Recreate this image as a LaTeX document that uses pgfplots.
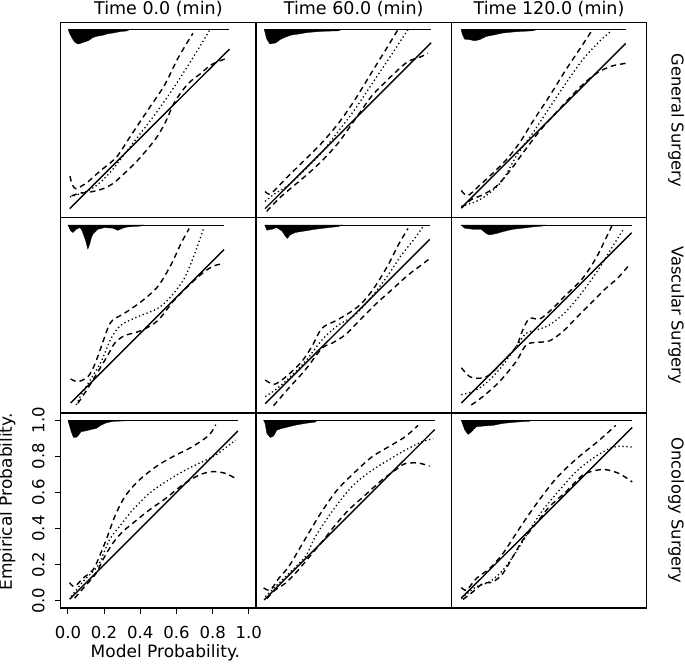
\documentclass[border=0pt]{standalone}
\usepackage{fontspec}
\setmainfont{DejaVu Sans}
\usepackage{pgfplots}
\pgfplotsset{compat=1.18}
\usepgfplotslibrary{groupplots}
\usetikzlibrary{calc}
\pgfplotsset{
  cal/.style={black, line width=1.4pt, mark=none, smooth, tension=0.5},
  dsh/.style={cal, dash pattern=on 5.5pt off 4pt},
  dot/.style={cal, line width=1.3pt, dash pattern=on 1.3pt off 2.7pt},
  idl/.style={black, line width=1.4pt, mark=none},
  hist/.style={fill=black, draw=black, line width=0.3pt, mark=none},
  hline/.style={black, line width=0.7pt, mark=none},
}
\begin{document}
\begin{tikzpicture}[font=\fontsize{17}{20}\selectfont]
\begin{groupplot}[group style={group size=3 by 3, horizontal sep=0pt, vertical sep=0pt, group name=g},
  scale only axis, width=195.3pt, height=195.17pt,
  xmin=-0.04, xmax=1.04, ymin=-0.04, ymax=1.04,
  xtick=\empty, ytick=\empty,
  axis line style={line width=1.4pt}]
% ---------- row 1: General Surgery
\nextgroupplot
\addplot[hist] coordinates {(0.002,1) (0.011,0.976) (0.025,0.95) (0.039,0.93) (0.057,0.921) (0.07,0.925) (0.085,0.93) (0.1,0.935) (0.112,0.939) (0.14,0.958) (0.165,0.965) (0.195,0.97) (0.22,0.978) (0.25,0.982) (0.29,0.99) (0.324,0.993) (0.34,1)};
\addplot[hline] coordinates {(0.002,1) (0.893,1)};
\addplot[idl] coordinates {(0.01,0.01) (0.893,0.893)};
\addplot[dsh] coordinates {(0.011,0.19) (0.025,0.14) (0.045,0.12) (0.075,0.135) (0.112,0.16) (0.18,0.22) (0.259,0.285) (0.30,0.34) (0.351,0.419) (0.443,0.557) (0.535,0.695) (0.608,0.842) (0.691,0.98)};
\addplot[dot] coordinates {(0.011,0.075) (0.06,0.09) (0.112,0.11) (0.16,0.14) (0.204,0.18) (0.25,0.23) (0.296,0.29) (0.35,0.36) (0.40,0.425) (0.48,0.53) (0.572,0.66) (0.663,0.80) (0.737,0.92) (0.785,1.0)};
\addplot[dsh] coordinates {(0.02,0.08) (0.06,0.095) (0.11,0.1) (0.16,0.11) (0.204,0.124) (0.25,0.15) (0.296,0.19) (0.388,0.28) (0.48,0.39) (0.535,0.48) (0.59,0.6) (0.663,0.70) (0.737,0.76) (0.79,0.805) (0.865,0.837) (0.884,0.833)};
\nextgroupplot
\addplot[hist] coordinates {(0.006,1) (0.019,0.948) (0.037,0.921) (0.05,0.924) (0.065,0.926) (0.08,0.935) (0.092,0.945) (0.12,0.958) (0.157,0.971) (0.193,0.976) (0.248,0.985) (0.322,0.991) (0.414,0.994) (0.43,1)};
\addplot[hline] coordinates {(0.006,1) (0.928,1)};
\addplot[idl] coordinates {(0.01,0.01) (0.928,0.928)};
\addplot[dsh] coordinates {(0.01,0.105) (0.03,0.09) (0.05,0.1) (0.083,0.133) (0.138,0.19) (0.23,0.28) (0.32,0.37) (0.414,0.48) (0.505,0.61) (0.597,0.76) (0.69,0.91) (0.744,1.0)};
\addplot[dot] coordinates {(0.01,0.05) (0.06,0.09) (0.138,0.14) (0.23,0.225) (0.32,0.317) (0.414,0.437) (0.505,0.557) (0.597,0.695) (0.69,0.833) (0.762,0.943) (0.80,1.0)};
\addplot[dsh] coordinates {(0.019,-0.005) (0.1,0.078) (0.23,0.188) (0.32,0.27) (0.414,0.373) (0.505,0.50) (0.597,0.63) (0.65,0.686) (0.726,0.76) (0.80,0.824) (0.873,0.851) (0.91,0.87)};
\nextgroupplot
\addplot[hist] coordinates {(0.015,1) (0.02,0.976) (0.033,0.948) (0.061,0.945) (0.088,0.939) (0.116,0.945) (0.153,0.963) (0.19,0.97) (0.245,0.982) (0.318,0.989) (0.41,0.994) (0.43,1)};
\addplot[hline] coordinates {(0.015,1) (0.924,1)};
\addplot[idl] coordinates {(0.015,0.015) (0.924,0.924)};
\addplot[dsh] coordinates {(0.015,0.111) (0.05,0.082) (0.116,0.139) (0.19,0.207) (0.263,0.28) (0.336,0.373) (0.41,0.492) (0.501,0.63) (0.593,0.778) (0.685,0.916) (0.74,1.0)};
\addplot[dot] coordinates {(0.015,0.023) (0.098,0.05) (0.171,0.096) (0.245,0.17) (0.318,0.299) (0.41,0.428) (0.501,0.566) (0.593,0.704) (0.685,0.833) (0.777,0.934) (0.84,0.99)};
\addplot[dsh] coordinates {(0.015,0.013) (0.07,0.06) (0.134,0.087) (0.208,0.133) (0.281,0.216) (0.355,0.317) (0.446,0.437) (0.538,0.54) (0.63,0.64) (0.704,0.713) (0.777,0.768) (0.85,0.80) (0.924,0.814)};
% ---------- row 2: Vascular Surgery
\nextgroupplot
\addplot[hist] coordinates {(0.0,1) (0.015,0.967) (0.028,0.958) (0.046,0.976) (0.065,0.985) (0.075,0.975) (0.092,0.93) (0.101,0.902) (0.11,0.866) (0.12,0.893) (0.13,0.93) (0.138,0.948) (0.166,0.976) (0.202,0.985) (0.248,0.982) (0.276,0.97) (0.303,0.982) (0.331,0.989) (0.404,0.994) (0.42,1)};
\addplot[hline] coordinates {(0.0,1) (0.863,1)};
\addplot[idl] coordinates {(0.015,0.015) (0.863,0.863)};
\addplot[dsh] coordinates {(0.015,0.148) (0.055,0.133) (0.11,0.16) (0.147,0.225) (0.184,0.326) (0.221,0.43) (0.248,0.474) (0.312,0.511) (0.404,0.575) (0.496,0.658) (0.569,0.778) (0.625,0.897) (0.67,0.98)};
\addplot[dot] coordinates {(0.046,0.004) (0.073,0.06) (0.129,0.151) (0.184,0.244) (0.239,0.373) (0.294,0.446) (0.386,0.492) (0.496,0.538) (0.569,0.603) (0.643,0.704) (0.698,0.833) (0.75,0.98)};
\addplot[dsh] coordinates {(0.055,0.013) (0.11,0.096) (0.166,0.188) (0.221,0.28) (0.258,0.345) (0.312,0.387) (0.404,0.415) (0.496,0.47) (0.588,0.584) (0.68,0.676) (0.753,0.74) (0.808,0.774) (0.863,0.787)};
\nextgroupplot
\addplot[hist] coordinates {(0.008,1) (0.02,0.971) (0.035,0.974) (0.048,0.976) (0.075,0.985) (0.09,0.975) (0.103,0.967) (0.121,0.939) (0.134,0.926) (0.149,0.945) (0.177,0.958) (0.232,0.967) (0.287,0.976) (0.36,0.985) (0.415,0.991) (0.44,1)};
\addplot[hline] coordinates {(0.008,1) (0.92,1)};
\addplot[idl] coordinates {(0.011,0.011) (0.92,0.92)};
\addplot[dsh] coordinates {(0.011,0.142) (0.057,0.118) (0.103,0.142) (0.157,0.188) (0.213,0.244) (0.268,0.326) (0.324,0.428) (0.397,0.468) (0.47,0.51) (0.544,0.566) (0.617,0.658) (0.69,0.778) (0.746,0.888) (0.8,0.98)};
\addplot[dot] coordinates {(0.011,0.05) (0.07,0.09) (0.14,0.151) (0.232,0.244) (0.324,0.363) (0.415,0.446) (0.507,0.501) (0.6,0.603) (0.69,0.722) (0.764,0.833) (0.837,0.925) (0.883,0.99)};
\addplot[dsh] coordinates {(0.057,0.0) (0.14,0.096) (0.232,0.198) (0.324,0.317) (0.379,0.345) (0.452,0.391) (0.526,0.465) (0.617,0.557) (0.709,0.64) (0.8,0.722) (0.874,0.778) (0.92,0.814)};
\nextgroupplot
\addplot[hist] coordinates {(0.015,1) (0.033,0.982) (0.079,0.976) (0.125,0.976) (0.153,0.952) (0.171,0.945) (0.208,0.952) (0.245,0.963) (0.3,0.976) (0.355,0.982) (0.41,0.989) (0.465,0.994) (0.48,1)};
\addplot[hline] coordinates {(0.015,1) (0.957,1)};
\addplot[idl] coordinates {(0.015,0.015) (0.957,0.957)};
\addplot[dsh] coordinates {(0.015,0.21) (0.061,0.161) (0.116,0.152) (0.171,0.17) (0.245,0.244) (0.318,0.326) (0.355,0.42) (0.392,0.483) (0.446,0.479) (0.501,0.52) (0.593,0.612) (0.685,0.704) (0.759,0.815) (0.814,0.925) (0.85,1.0)};
\addplot[dot] coordinates {(0.015,0.06) (0.098,0.087) (0.171,0.142) (0.245,0.225) (0.318,0.326) (0.373,0.4) (0.428,0.418) (0.501,0.446) (0.593,0.52) (0.685,0.63) (0.777,0.759) (0.85,0.879) (0.914,0.98)};
\addplot[dsh] coordinates {(0.07,0.004) (0.134,0.05) (0.226,0.133) (0.318,0.244) (0.373,0.336) (0.428,0.35) (0.501,0.358) (0.575,0.409) (0.648,0.483) (0.722,0.557) (0.814,0.649) (0.878,0.704) (0.943,0.778)};
% ---------- row 3: Oncology Surgery
\nextgroupplot[xtick={0,0.2,0.4,0.6,0.8,1}, ytick={0,0.2,0.4,0.6,0.8,1},
  xticklabels={0.0,0.2,0.4,0.6,0.8,1.0}, yticklabels={0.0,0.2,0.4,0.6,0.8,1.0},
  tick align=outside, xtick pos=bottom, ytick pos=left, major tick length=6pt,
  tick style={line width=1pt, black},
  ticklabel style={font=\fontsize{16.5}{19}\selectfont},
  yticklabel style={anchor=south, inner sep=0pt, xshift=-10pt, rotate=90},
  xticklabel style={anchor=north, inner sep=0pt, yshift=-12pt}]
\addplot[hist] coordinates {(0.0,1) (0.018,0.936) (0.031,0.904) (0.045,0.905) (0.055,0.912) (0.073,0.936) (0.101,0.941) (0.128,0.948) (0.156,0.954) (0.183,0.972) (0.211,0.985) (0.248,0.993) (0.321,0.996) (0.34,1)};
\addplot[hline] coordinates {(0.0,1) (0.94,1)};
\addplot[idl] coordinates {(0.009,0.009) (0.94,0.94)};
\addplot[dsh] coordinates {(0.009,0.101) (0.037,0.079) (0.083,0.125) (0.138,0.171) (0.174,0.245) (0.211,0.337) (0.266,0.484) (0.321,0.586) (0.394,0.668) (0.486,0.742) (0.578,0.797) (0.688,0.853) (0.78,0.917) (0.817,0.975)};
\addplot[dot] coordinates {(0.018,0.024) (0.083,0.107) (0.138,0.162) (0.174,0.208) (0.229,0.337) (0.284,0.41) (0.358,0.503) (0.45,0.595) (0.541,0.659) (0.633,0.715) (0.725,0.761) (0.817,0.807) (0.927,0.89)};
\addplot[dsh] coordinates {(0.037,0.015) (0.101,0.088) (0.156,0.153) (0.193,0.227) (0.248,0.319) (0.303,0.383) (0.358,0.429) (0.45,0.503) (0.541,0.567) (0.633,0.641) (0.725,0.696) (0.798,0.715) (0.872,0.705) (0.936,0.672)};
\nextgroupplot
\addplot[hist] coordinates {(0.002,1) (0.01,0.982) (0.02,0.926) (0.039,0.904) (0.057,0.912) (0.075,0.945) (0.103,0.954) (0.14,0.963) (0.177,0.972) (0.232,0.982) (0.287,0.989) (0.30,1)};
\addplot[hline] coordinates {(0.002,1) (0.948,1)};
\addplot[idl] coordinates {(0.005,0.005) (0.948,0.948)};
\addplot[dsh] coordinates {(0.002,0.072) (0.039,0.06) (0.085,0.124) (0.14,0.188) (0.195,0.28) (0.25,0.373) (0.305,0.465) (0.36,0.548) (0.415,0.621) (0.507,0.713) (0.6,0.796) (0.69,0.851) (0.783,0.907) (0.856,0.971)};
\addplot[dot] coordinates {(0.011,0.023) (0.085,0.096) (0.14,0.151) (0.232,0.244) (0.287,0.354) (0.36,0.465) (0.434,0.566) (0.507,0.649) (0.6,0.722) (0.69,0.778) (0.783,0.833) (0.874,0.879) (0.94,0.897)};
\addplot[dsh] coordinates {(0.02,0.013) (0.066,0.06) (0.12,0.096) (0.176,0.151) (0.232,0.216) (0.324,0.326) (0.397,0.418) (0.47,0.501) (0.562,0.584) (0.654,0.667) (0.728,0.722) (0.783,0.759) (0.856,0.763) (0.92,0.745)};
\nextgroupplot
\addplot[hist] coordinates {(0.015,1) (0.02,0.985) (0.033,0.948) (0.052,0.921) (0.07,0.934) (0.098,0.963) (0.134,0.967) (0.19,0.971) (0.245,0.982) (0.318,0.989) (0.392,0.994) (0.41,1)};
\addplot[hline] coordinates {(0.015,1) (0.96,1)};
\addplot[idl] coordinates {(0.015,0.015) (0.96,0.96)};
\addplot[dsh] coordinates {(0.015,0.074) (0.045,0.06) (0.098,0.124) (0.171,0.179) (0.245,0.262) (0.318,0.373) (0.392,0.483) (0.465,0.584) (0.538,0.676) (0.612,0.75) (0.685,0.814) (0.777,0.888) (0.869,0.971)};
\addplot[dot] coordinates {(0.015,0.013) (0.098,0.078) (0.171,0.105) (0.245,0.17) (0.318,0.271) (0.392,0.391) (0.465,0.501) (0.557,0.612) (0.648,0.713) (0.74,0.787) (0.832,0.842) (0.887,0.855) (0.96,0.851)};
\addplot[dsh] coordinates {(0.024,0.008) (0.079,0.05) (0.134,0.096) (0.19,0.105) (0.245,0.152) (0.3,0.244) (0.355,0.336) (0.429,0.428) (0.501,0.52) (0.593,0.603) (0.685,0.695) (0.759,0.722) (0.815,0.726) (0.889,0.704) (0.96,0.658)};
\end{groupplot}
\begin{scope}[every node/.style={font=\fontsize{17.5}{21}\selectfont}]
\node[anchor=base] at ($(g c1r1.north)+(0,8pt)$) {Time 0.0 (min)};
\node[anchor=base] at ($(g c2r1.north)+(0,8pt)$) {Time 60.0 (min)};
\node[anchor=base] at ($(g c3r1.north)+(0,8pt)$) {Time 120.0 (min)};
\end{scope}
\begin{scope}[every node/.style={font=\fontsize{16.3}{19}\selectfont}]
\node[rotate=-90] at ($(g c3r1.east)+(29.5pt,0)$) {General Surgery};
\node[rotate=-90] at ($(g c3r2.east)+(29.5pt,0)$) {Vascular Surgery};
\node[rotate=-90] at ($(g c3r3.east)+(29.5pt,0)$) {Oncology Surgery};
\end{scope}
\node[rotate=90] at ($(g c1r3.west)+(-53.5pt,8.5pt)$) {Empirical Probability.};
\node at ($(g c1r3.south)+(7pt,-45pt)$) {Model Probability.};
\pgfresetboundingbox
\path[use as bounding box] ($(g c1r3.south west)+(-60.7pt,-55pt)$) rectangle ($(g c3r1.north east)+(38.3pt,22.5pt)$);
\end{tikzpicture}
\end{document}
